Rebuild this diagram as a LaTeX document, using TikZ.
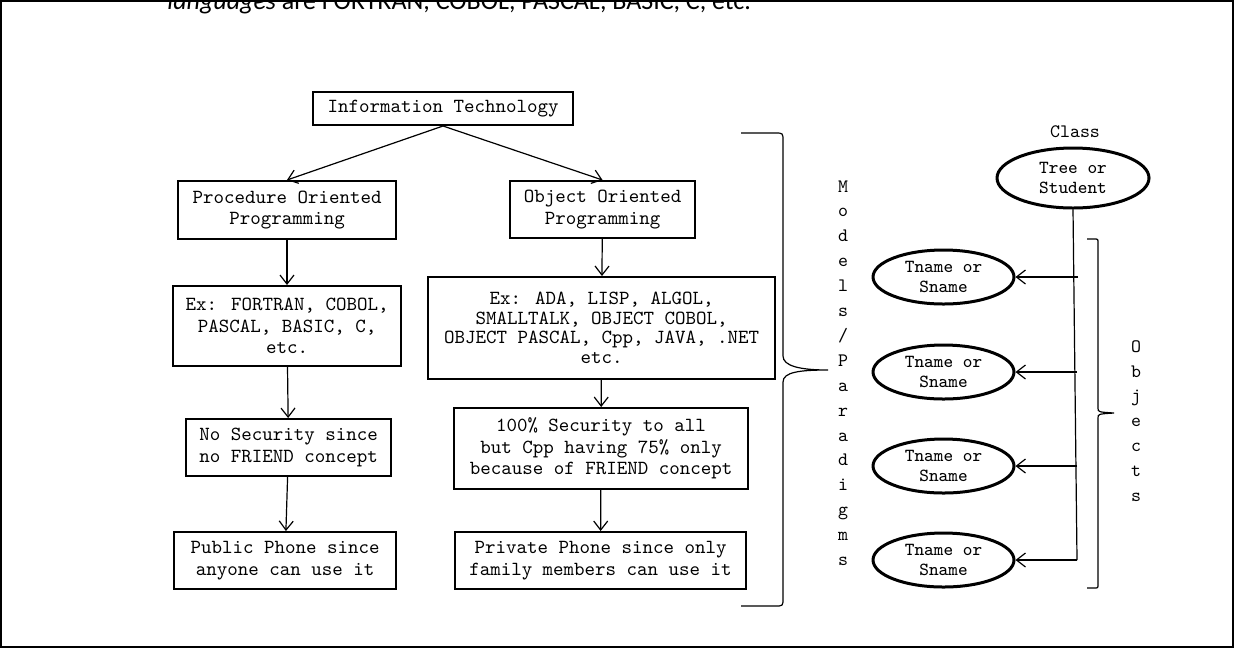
\documentclass[tikz,border=0pt]{standalone}
\usepackage{fontspec}
\newfontfamily\bodyfont{Carlito}
\usetikzlibrary{shapes.geometric,arrows.meta}

\begin{document}
\begin{tikzpicture}[x=0.5pt,y=-0.5pt,
    box/.style={draw, line width=1pt, rectangle, inner sep=0pt, align=center,
      font=\ttfamily\fontsize{10}{10.8}\selectfont},
    obj/.style={draw, line width=1.5pt, ellipse, inner sep=0pt, align=center,
      minimum width=70.5pt, minimum height=27pt, font=\ttfamily\fontsize{9.2}{10}\selectfont},
    arr/.style={-{Straight Barb[length=4.5pt,width=7pt]}, line width=0.6pt},
    vtext/.style={align=center, inner sep=0pt, font=\ttfamily\fontsize{9.5}{12.45}\selectfont}]
    \useasboundingbox (0,0) rectangle (1234,649);
    \clip (0,0) rectangle (1234,649);
    \draw[line width=1pt] (1,1) rectangle (1233,647);
    % cut text from the page above
    \node[anchor=base west, inner sep=0pt, font=\bodyfont\fontsize{13}{15}\selectfont] (above) at (167,9)
      {\textit{languages} are FORTRAN, COBOL, PASCAL, BASIC, C, etc.};

    % left side
    \node[box, minimum width=130pt, minimum height=16.5pt] (it) at (443,108.5) {Information Technology};
    \node[box, minimum width=109pt, minimum height=29pt] (pop) at (287,210) {Procedure Oriented\\Programming};
    \node[box, minimum width=92.5pt, minimum height=28.5pt] (oop) at (602.5,209.5) {Object Oriented\\Programming};
    \node[box, minimum width=114pt, minimum height=40pt] (exl) at (287,326) {Ex: FORTRAN, COBOL,\\PASCAL, BASIC, C,\\etc.};
    \node[box, minimum width=173.5pt, minimum height=51pt, font=\ttfamily\fontsize{10}{9.8}\selectfont] (exr) at (601.5,328)
      {Ex: ADA, LISP, ALGOL,\\SMALLTALK, OBJECT COBOL,\\OBJECT PASCAL, Cpp, JAVA, .NET\\etc.};
    \node[box, minimum width=102.5pt, minimum height=28.5pt] (nosec) at (288.5,447.5) {No Security since\\no FRIEND concept};
    \node[box, minimum width=147pt, minimum height=40.5pt] (sec) at (601,448.5) {100\% Security to all\\but Cpp having 75\% only\\because of FRIEND concept};
    \node[box, minimum width=111pt, minimum height=28.5pt] (pub) at (285,560.5) {Public Phone since\\anyone can use it};
    \node[box, minimum width=145.5pt, minimum height=28.5pt] (priv) at (600.5,560.5) {Private Phone since only\\family members can use it};

    \draw[arr] (it.south) -- (pop.north);
    \draw[arr] (it.south) -- (oop.north);
    \draw[arr] (pop) -- (exl);
    \draw[arr] (exl) -- (nosec);
    \draw[arr] (nosec) -- (pub);
    \draw[arr] (oop) -- (exr);
    \draw[arr] (exr) -- (sec);
    \draw[arr] (sec) -- (priv);

    % big brace
    \draw[line width=0.6pt] (741,133) -- (775,133) .. controls (783,133) .. (783,141) -- (783,356)
      .. controls (783,366) and (800,370) .. (828,370)
      .. controls (800,370) and (783,372) .. (783,382) -- (783,598)
      .. controls (783,606) .. (775,606) -- (741,606);
    \node[vtext] (models) at (843,373) {M\\o\\d\\e\\l\\s\\/\\P\\a\\r\\a\\d\\i\\g\\m\\s};

    % right side
    \node[font=\ttfamily\fontsize{9.5}{11}\selectfont, inner sep=0pt] (clslbl) at (1075,132) {Class};
    \node[obj, minimum width=76pt, minimum height=30pt] (cls) at (1073,178) {Tree or\\Student};
    \node[obj] (o1) at (943.5,277) {Tname or\\Sname};
    \node[obj] (o2) at (943.5,372) {Tname or\\Sname};
    \node[obj] (o3) at (943.5,466) {Tname or\\Sname};
    \node[obj] (o4) at (943.5,560) {Tname or\\Sname};
    \coordinate (j1) at (1078,277);
    \coordinate (j2) at (1077,372);
    \coordinate (j3) at (1077,466);
    \coordinate (j4) at (1077,560);
    \draw[line width=0.6pt] (cls.south) -- (j4);
    \foreach \i in {1,...,4} \draw[arr] (j\i) -- (o\i.east);

    % objects brace
    \draw[line width=0.6pt] (1087,239) -- (1094,239) .. controls (1098,239) .. (1098,243) -- (1098,408)
      .. controls (1098,412) .. (1114,413) .. controls (1098,414) .. (1098,418) -- (1098,584)
      .. controls (1098,588) .. (1094,588) -- (1087,588);
    \node[vtext] (objs) at (1136,421) {O\\b\\j\\e\\c\\t\\s};
\end{tikzpicture}
\end{document}
